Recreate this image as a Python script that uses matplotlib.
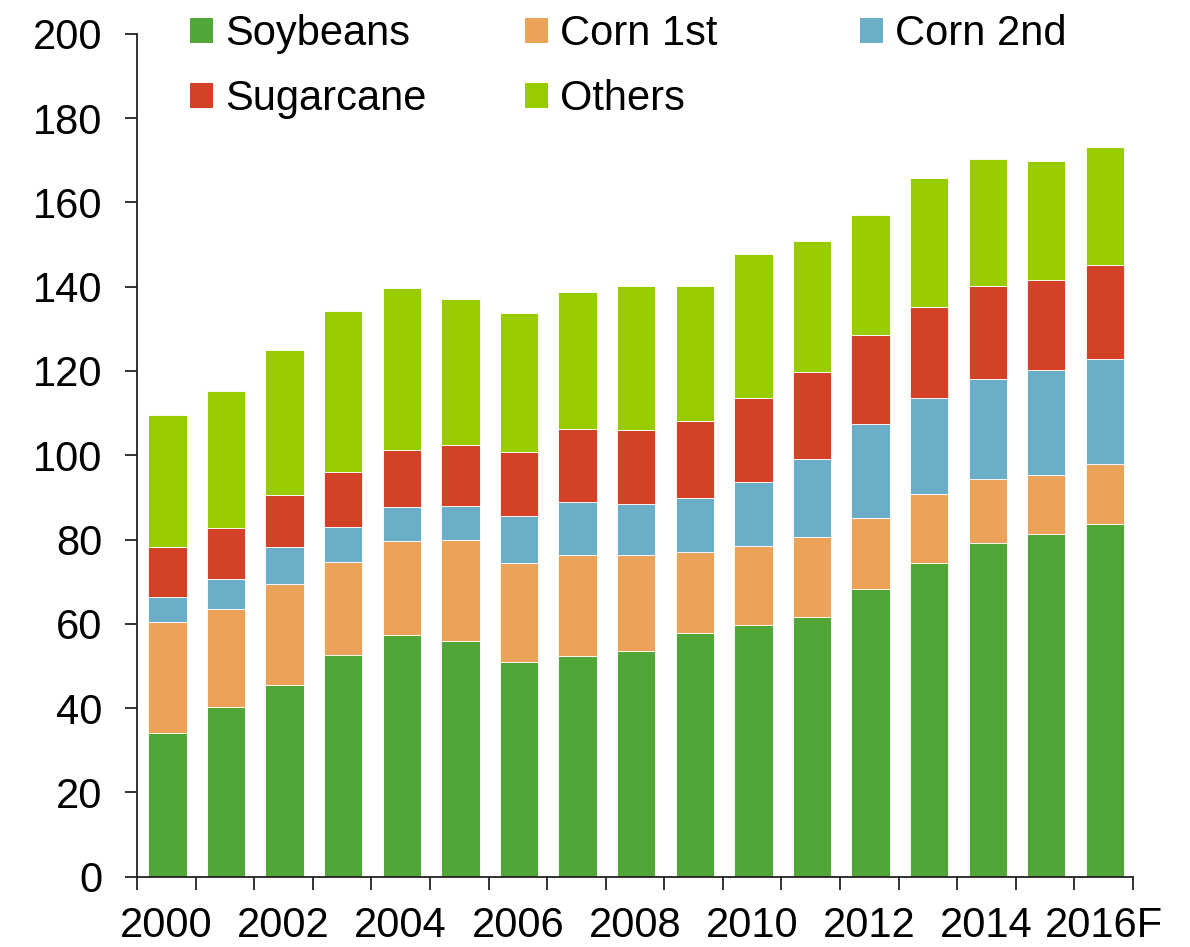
import matplotlib
matplotlib.use("Agg")
import matplotlib.pyplot as plt
from matplotlib.patches import Patch
import numpy as np

plt.rcParams['font.family'] = ['Liberation Sans', 'DejaVu Sans']

years = ["2000", "2001", "2002", "2003", "2004", "2005", "2006", "2007", "2008",
         "2009", "2010", "2011", "2012", "2013", "2014", "2015", "2016F"]

# cumulative tops
soy_top    = [34.2, 40.3, 45.5, 52.6, 57.4, 56.0, 51.0, 52.4, 53.5, 57.7, 59.6, 61.7, 68.3, 74.4, 79.1, 81.4, 83.7]
corn1_top  = [60.4, 63.5, 69.4, 74.7, 79.7, 79.8, 74.4, 76.3, 76.4, 77.0, 78.5, 80.5, 85.2, 90.7, 94.3, 95.2, 97.9]
corn2_top  = [66.4, 70.7, 78.2, 83.0, 87.6, 88.0, 85.6, 88.9, 88.4, 89.8, 93.6, 99.1, 107.5, 113.6, 118.0, 120.2, 122.8]
sugar_top  = [78.3, 82.8, 90.6, 96.1, 101.3, 102.4, 100.8, 106.2, 105.9, 108.2, 113.5, 119.8, 128.4, 135.2, 140.1, 141.6, 145.2]
others_top = [109.5, 115.2, 125.0, 134.1, 139.6, 137.1, 133.7, 138.7, 140.1, 140.1, 147.7, 150.8, 156.9, 165.8, 170.3, 169.7, 173.2]

series_names = ["Soybeans", "Corn 1st", "Corn 2nd", "Sugarcane", "Others"]
colors = ["#50A737", "#EBA35A", "#6AAEC8", "#D34127", "#99CC00"]

tops = np.array([soy_top, corn1_top, corn2_top, sugar_top, others_top])
bottoms = np.vstack([np.zeros(len(years)), tops[:-1]])
heights = tops - bottoms

W, H = 1190, 947
fig = plt.figure(figsize=(W / 100, H / 100), dpi=100)
ax = fig.add_axes([137 / W, 1 - 876.7 / H, (1133 - 137) / W, (876.7 - 33.7) / H])

x = np.arange(len(years))
for i in range(5):
    ax.bar(x + 0.02, heights[i], bottom=bottoms[i], width=0.655, color=colors[i],
           edgecolor="white", linewidth=0.6, zorder=2)

ax.set_xlim(-0.5, len(years) - 0.5)
ax.set_ylim(0, 200)
ax.set_yticks(np.arange(0, 201, 20))

ax.set_xticks(np.arange(-0.5, len(years), 1.0))
ax.set_xticklabels([])
ax.set_xticks(x[::2], minor=True)
ax.set_xticklabels(years[::2], minor=True)

for s in ["top", "right"]:
    ax.spines[s].set_visible(False)
for s in ["left", "bottom"]:
    ax.spines[s].set_linewidth(1.3)
    ax.spines[s].set_color("#222222")

ax.tick_params(axis="y", direction="out", length=9, width=1.3, pad=16, labelsize=30, color="#222222")
ax.tick_params(axis="x", which="major", direction="out", length=9, width=1.3, color="#222222")
ax.tick_params(axis="x", which="minor", length=0, pad=21, labelsize=30)

handles = [Patch(facecolor=c, edgecolor="none") for c in colors]
columns = [([0, 3], 190), ([1, 4], 525), ([2], 860)]
for idxs, xpix in columns:
    leg = fig.legend([handles[k] for k in idxs], [series_names[k] for k in idxs],
                     loc="upper left", bbox_to_anchor=(xpix / W, 1 - 14 / H),
                     frameon=False, fontsize=30, borderpad=0, borderaxespad=0,
                     handlelength=0.55, handleheight=0.55, handletextpad=0.3,
                     labelspacing=0.6)

fig.savefig("out.png", dpi=100)
